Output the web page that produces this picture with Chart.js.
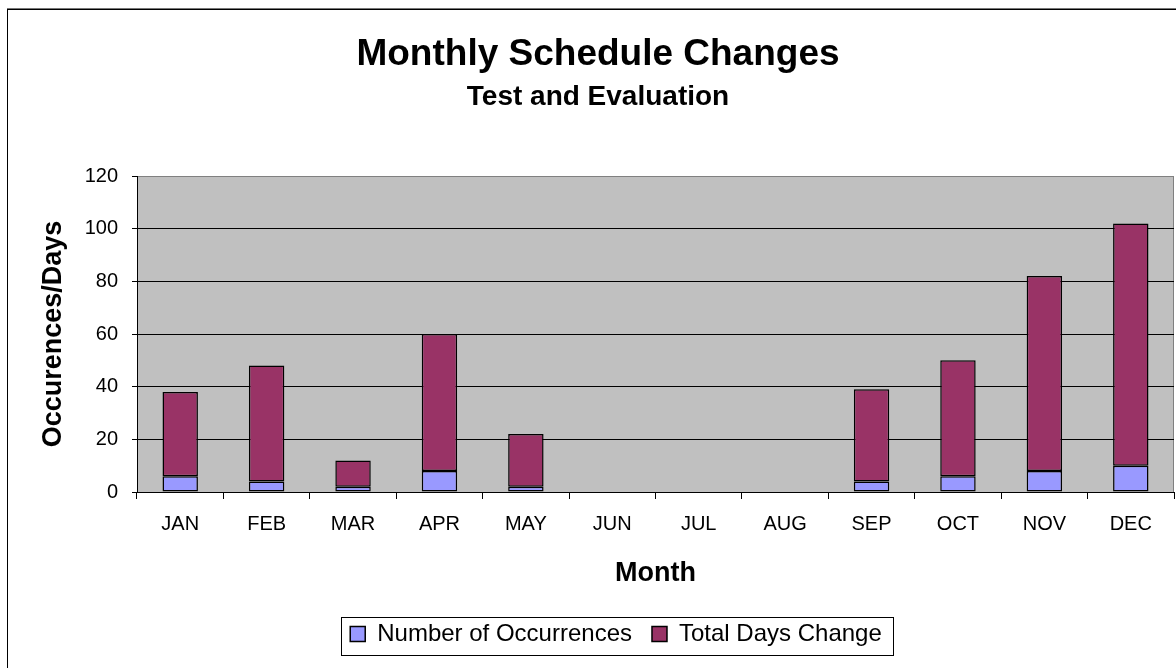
<!DOCTYPE html>
<html>
<head>
<meta charset="utf-8">
<script src="https://cdn.jsdelivr.net/npm/chart.js@4/dist/chart.umd.min.js"></script>
<style>
  html, body { margin: 0; padding: 0; background: #ffffff; overflow: hidden; }
  #frame { position: absolute; left: 7px; top: 9px; width: 1300px; height: 800px; border-left: 1.5px solid #000; border-top: 1.5px solid #000; box-shadow: 0 -1px 0 #777; }
  #wrap { position: absolute; left: 0; top: 0; width: 1176px; height: 668px; }
</style>
</head>
<body>
<div id="frame"></div>
<div id="wrap"><canvas id="c"></canvas></div>
<script>
const months = ['JAN','FEB','MAR','APR','MAY','JUN','JUL','AUG','SEP','OCT','NOV','DEC'];
const occurrences = [6, 4, 2, 8, 2, 0, 0, 0, 4, 6, 8, 10];
const totalDaysChange = [32, 44, 10, 52, 20, 0, 0, 0, 35, 44, 74, 92];
const yTicks = [0, 20, 40, 60, 80, 100, 120];
const seriesNames = ['Number of Occurrences', 'Total Days Change'];
const chartTitle = 'Monthly Schedule Changes';
const chartSubtitle = 'Test and Evaluation';
const xTitle = 'Month';
const yTitle = 'Occurences/Days';

const FONT = "'Liberation Sans', Arial, sans-serif";

const plotBg = {
  id: 'plotBg',
  beforeDraw(chart) {
    const {ctx, chartArea: a} = chart;
    ctx.save();
    ctx.fillStyle = '#C0C0C0';
    ctx.fillRect(a.left, a.top, a.right - a.left, a.bottom - a.top);
    ctx.strokeStyle = '#808080';
    ctx.lineWidth = 1;
    ctx.beginPath();
    ctx.moveTo(a.right - 0.5, a.top);
    ctx.lineTo(a.right - 0.5, a.bottom);
    ctx.stroke();
    ctx.restore();
  }
};

const legendShift = {
  id: 'legendShift',
  afterLayout(chart) {
    const lg = chart.legend;
    if (lg) { lg.left += 18; lg.right += 18; }
  },
  afterDraw(chart) {
    const lg = chart.legend;
    if (!lg || !lg.legendHitBoxes || !lg.legendHitBoxes.length) return;
    const hb = lg.legendHitBoxes;
    const first = hb[0], last = hb[hb.length - 1];
    const ctx = chart.ctx;
    const l = first.left - 9, r = last.left + last.width + 11;
    const t = first.top - 5, b = first.top + first.height + 9;
    ctx.save();
    ctx.strokeStyle = '#000';
    ctx.lineWidth = 1;
    ctx.strokeRect(Math.round(l) + 0.5, Math.round(t) + 0.5, Math.round(r - l), Math.round(b - t));
    ctx.restore();
  }
};

new Chart(document.getElementById('c'), {
  type: 'bar',
  data: {
    labels: months,
    datasets: [
      { label: seriesNames[0], data: occurrences, backgroundColor: '#9999FF', borderColor: '#000000', borderWidth: 1.5, borderSkipped: false, barPercentage: 0.41, categoryPercentage: 1 },
      { label: seriesNames[1], data: totalDaysChange, backgroundColor: '#993366', borderColor: '#000000', borderWidth: 1.5, borderSkipped: false, barPercentage: 0.41, categoryPercentage: 1 }
    ]
  },
  options: {
    responsive: true,
    maintainAspectRatio: false,
    animation: false,
    layout: { padding: { left: 22, right: 2, top: 0, bottom: 12 } },
    plugins: {
      title: { display: true, text: chartTitle, color: '#000', font: { family: FONT, size: 37, weight: 'bold' }, padding: { top: 33, bottom: 0 } },
      subtitle: { display: true, text: chartSubtitle, color: '#000', font: { family: FONT, size: 28, weight: 'bold' }, padding: { top: 3, bottom: 62 } },
      legend: {
        position: 'bottom',
        labels: { color: '#000', font: { family: FONT, size: 24 }, boxWidth: 15, boxHeight: 15, padding: 20 }
      },
      tooltip: { enabled: false }
    },
    scales: {
      x: {
        stacked: true,
        afterFit(s) { s.height = 110; },
        grid: { offset: true, drawOnChartArea: false, drawTicks: true, tickLength: 7, tickColor: '#000', color: '#000' },
        border: { color: '#000', width: 1 },
        ticks: { color: '#000', font: { family: FONT, size: 20 }, padding: 13 },
        title: { display: true, text: xTitle, color: '#000', font: { family: FONT, size: 27, weight: 'bold' }, padding: { top: 0, bottom: 12 } }
      },
      y: {
        stacked: true,
        min: 0, max: 120,
        afterFit(s) { s.width = 115; },
        afterBuildTicks(s) { s.ticks = yTicks.map(v => ({ value: v })); },
        grid: { color: (c) => (c.tick && c.tick.value === 120 ? '#808080' : '#000'), lineWidth: 1, drawTicks: true, tickLength: 5, tickColor: '#000' },
        border: { color: '#000', width: 1 },
        ticks: { color: '#000', font: { family: FONT, size: 20 }, padding: 14 },
        title: { display: true, text: yTitle, color: '#000', font: { family: FONT, size: 27, weight: 'bold' }, padding: { top: 15, bottom: 0 } }
      }
    }
  },
  plugins: [plotBg, legendShift]
});
</script>
</body>
</html>
